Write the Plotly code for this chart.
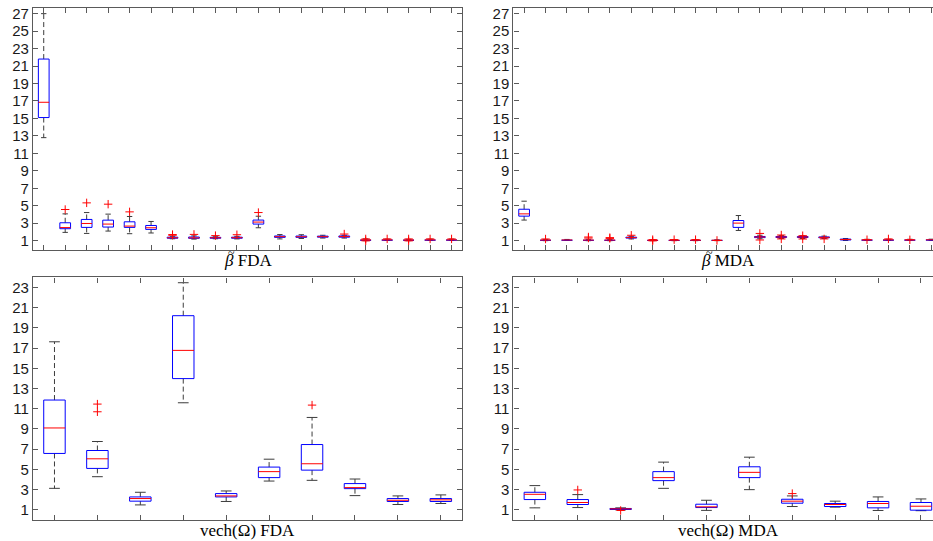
import plotly.graph_objects as go

# ---- beta-tilde, FDA (20 coefficients) ----
beta_fda_lw = [12.8, 1.95, 1.83, 2.10, 1.80, 1.88, 1.22, 1.18, 1.22, 1.20, 2.48, 1.20, 1.25, 1.30, 1.30, 1.00, 1.02, 1.00, 1.02, 1.02]
beta_fda_q1 = [15.1, 2.37, 2.52, 2.56, 2.52, 2.29, 1.28, 1.27, 1.28, 1.28, 2.90, 1.38, 1.38, 1.40, 1.40, 1.05, 1.06, 1.05, 1.06, 1.06]
beta_fda_med = [16.85, 2.50, 2.97, 2.90, 2.67, 2.48, 1.33, 1.32, 1.33, 1.34, 3.13, 1.46, 1.45, 1.46, 1.47, 1.09, 1.09, 1.08, 1.09, 1.09]
beta_fda_q3 = [21.8, 3.05, 3.43, 3.35, 3.16, 2.74, 1.40, 1.42, 1.38, 1.40, 3.36, 1.54, 1.53, 1.52, 1.54, 1.13, 1.12, 1.11, 1.12, 1.12]
beta_fda_uw = [27.0, 4.07, 4.22, 4.04, 3.77, 3.20, 1.50, 1.55, 1.45, 1.50, 3.80, 1.70, 1.68, 1.62, 1.62, 1.20, 1.18, 1.16, 1.18, 1.18]
beta_fda_out_x = [2, 3, 4, 5, 7, 7, 8, 9, 10, 11, 15, 16, 16, 17, 18, 18, 19, 20]
beta_fda_out_y = [4.57, 5.33, 5.18, 4.30, 1.62, 1.70, 1.72, 1.58, 1.68, 4.22, 1.76, 1.20, 0.98, 1.20, 1.20, 0.98, 1.20, 1.20]

# ---- beta-tilde, MDA (20 coefficients) ----
beta_mda_lw = [3.36, 1.00, 1.02, 1.00, 1.00, 1.20, 1.00, 1.00, 1.00, 1.00, 2.17, 1.22, 1.25, 1.25, 1.25, 1.02, 1.02, 1.02, 1.02, 1.02]
beta_mda_q1 = [3.81, 1.04, 1.05, 1.04, 1.04, 1.30, 1.03, 1.03, 1.03, 1.03, 2.52, 1.35, 1.36, 1.36, 1.33, 1.08, 1.06, 1.06, 1.06, 1.07]
beta_mda_med = [4.07, 1.07, 1.08, 1.07, 1.07, 1.35, 1.05, 1.05, 1.05, 1.05, 3.01, 1.42, 1.42, 1.42, 1.38, 1.13, 1.09, 1.09, 1.09, 1.10]
beta_mda_q3 = [4.60, 1.10, 1.11, 1.10, 1.10, 1.40, 1.07, 1.07, 1.07, 1.07, 3.31, 1.48, 1.48, 1.48, 1.43, 1.18, 1.12, 1.12, 1.12, 1.13]
beta_mda_uw = [5.52, 1.15, 1.14, 1.15, 1.15, 1.50, 1.10, 1.10, 1.10, 1.10, 3.88, 1.62, 1.58, 1.55, 1.52, 1.25, 1.16, 1.16, 1.16, 1.17]
beta_mda_out_x = [2, 4, 4, 5, 5, 6, 7, 7, 8, 9, 10, 12, 12, 13, 13, 14, 14, 15, 17, 18, 19]
beta_mda_out_y = [1.19, 1.30, 1.42, 1.26, 1.35, 1.62, 0.98, 1.12, 1.12, 1.12, 1.03, 1.83, 1.08, 1.65, 1.20, 1.57, 1.19, 1.20, 1.11, 1.20, 1.10]

# ---- vech(Omega), FDA (10 elements) ----
vech_fda_lw = [3.13, 4.28, 1.49, 11.59, 1.83, 3.85, 3.92, 2.41, 1.53, 1.63]
vech_fda_q1 = [6.58, 5.10, 1.86, 13.98, 2.28, 4.19, 4.93, 3.10, 1.83, 1.83]
vech_fda_med = [9.10, 6.05, 2.12, 16.77, 2.38, 4.78, 5.56, 3.20, 1.95, 1.99]
vech_fda_q3 = [11.86, 6.87, 2.28, 20.20, 2.61, 5.23, 7.46, 3.60, 2.12, 2.12]
vech_fda_uw = [17.62, 7.76, 2.74, 23.46, 2.87, 6.01, 10.14, 4.05, 2.38, 2.48]
vech_fda_out_x = [2, 2, 7]
vech_fda_out_y = [11.46, 10.70, 11.36]

# ---- vech(Omega), MDA (10 elements) ----
vech_mda_lw = [1.20, 1.23, 1.00, 3.13, 0.95, 3.00, 1.33, 1.27, 0.94, 0.92]
vech_mda_q1 = [2.02, 1.53, 1.04, 3.89, 1.23, 4.19, 1.66, 1.33, 1.20, 0.97]
vech_mda_med = [2.54, 1.73, 1.10, 4.19, 1.30, 4.71, 1.86, 1.53, 1.63, 1.36]
vech_mda_q3 = [2.74, 2.02, 1.14, 4.78, 1.56, 5.26, 2.05, 1.63, 1.83, 1.73]
vech_mda_uw = [3.40, 2.51, 1.20, 5.72, 1.95, 6.21, 2.38, 1.86, 2.28, 2.08]
vech_mda_out_x = [2, 3, 7]
vech_mda_out_y = [2.97, 0.94, 2.61]

top_yticks = list(range(1, 28, 2))
bottom_yticks = list(range(1, 24, 2))

BOX_W = 0.5
CAP_W = 0.25
BLUE = "#0000FF"
RED = "#FF0000"
WHISKER = "#3c3c3c"
AXIS = "#5a5a5a"

fig = go.Figure()


def add_boxplot(xa, ya, lw, q1, med, q3, uw, out_x, out_y):
    pos = list(range(1, len(med) + 1))
    wx, wy, cx, cy, bx, by, mx, my = [], [], [], [], [], [], [], []
    for p, a, b, m, c, d in zip(pos, lw, q1, med, q3, uw):
        # dashed whisker stems and solid end caps
        wx += [p, p, None, p, p, None]
        wy += [c, d, None, b, a, None]
        cx += [p - CAP_W / 2, p + CAP_W / 2, None, p - CAP_W / 2, p + CAP_W / 2, None]
        cy += [d, d, None, a, a, None]
        # interquartile box outline
        l, r = p - BOX_W / 2, p + BOX_W / 2
        bx += [l, r, r, l, l, None]
        by += [b, b, c, c, b, None]
        # median bar
        mx += [l, r, None]
        my += [m, m, None]
    common = dict(xaxis=xa, yaxis=ya, showlegend=False, hoverinfo="skip")
    fig.add_trace(go.Scatter(x=wx, y=wy, mode="lines",
                             line=dict(color=WHISKER, width=1, dash="5px,3px"), **common))
    fig.add_trace(go.Scatter(x=cx, y=cy, mode="lines",
                             line=dict(color=WHISKER, width=1), **common))
    fig.add_trace(go.Scatter(x=bx, y=by, mode="lines",
                             line=dict(color=BLUE, width=1), **common))
    fig.add_trace(go.Scatter(x=mx, y=my, mode="lines",
                             line=dict(color=RED, width=1), **common))
    fig.add_trace(go.Scatter(x=out_x, y=out_y, mode="markers",
                             marker=dict(symbol="cross-thin", size=6,
                                         line=dict(color=RED, width=1)), **common))


add_boxplot("x", "y", beta_fda_lw, beta_fda_q1, beta_fda_med, beta_fda_q3, beta_fda_uw,
            beta_fda_out_x, beta_fda_out_y)
add_boxplot("x2", "y2", beta_mda_lw, beta_mda_q1, beta_mda_med, beta_mda_q3, beta_mda_uw,
            beta_mda_out_x, beta_mda_out_y)
add_boxplot("x3", "y3", vech_fda_lw, vech_fda_q1, vech_fda_med, vech_fda_q3, vech_fda_uw,
            vech_fda_out_x, vech_fda_out_y)
add_boxplot("x4", "y4", vech_mda_lw, vech_mda_q1, vech_mda_med, vech_mda_q3, vech_mda_uw,
            vech_mda_out_x, vech_mda_out_y)

W, H = 933, 541
left_dom = [33 / W, 462.3 / W]
right_dom = [513.4 / W, 1.0]
top_dom = [(H - 248) / H, (H - 5) / H]
bot_dom = [(H - 520) / H, (H - 276) / H]

tick_font = dict(family="Liberation Sans, Arial, sans-serif", size=15, color="#1a1a1a")


def xaxis(dom, anchor, n, rng):
    return dict(domain=dom, anchor=anchor, range=rng, tickvals=list(range(1, n + 1)),
                showticklabels=False, ticks="inside", ticklen=5, tickcolor=AXIS,
                showline=True, linecolor=AXIS, linewidth=1.2, mirror="ticks",
                showgrid=False, zeroline=False, fixedrange=True)


def yaxis(dom, anchor, rng, tv, mirror):
    return dict(domain=dom, anchor=anchor, range=rng, tickvals=tv,
                ticks="inside", ticklen=5, tickcolor=AXIS, tickfont=tick_font,
                showline=True, linecolor=AXIS, linewidth=1.2,
                mirror="ticks" if mirror else False,
                showgrid=False, zeroline=False, fixedrange=True)


top_rng = [-0.025, 27.65]
bot_rng = [-0.013, 23.98]

fig.update_layout(
    width=W, height=H,
    margin=dict(l=0, r=0, t=0, b=0),
    paper_bgcolor="white", plot_bgcolor="white",
    xaxis=xaxis(left_dom, "y", 20, [0.5, 20.5]),
    yaxis=yaxis(top_dom, "x", top_rng, top_yticks, True),
    xaxis2=xaxis(right_dom, "y2", 20, [0.5, 20.08]),
    yaxis2=yaxis(top_dom, "x2", top_rng, top_yticks, False),
    xaxis3=xaxis(left_dom, "y3", 10, [0.5, 10.5]),
    yaxis3=yaxis(bot_dom, "x3", bot_rng, bottom_yticks, True),
    xaxis4=xaxis(right_dom, "y4", 10, [0.5, 10.28]),
    yaxis4=yaxis(bot_dom, "x4", bot_rng, bottom_yticks, False),
)

label_font = dict(family="Liberation Serif, Times New Roman, serif", size=17, color="black")
left_c = (left_dom[0] + left_dom[1]) / 2
right_c = (513.4 + 942.7) / 2 / W
# (text, x, y, pixel offset of the beta from the label centre or None)
labels = [
    ("<i>\u03b2</i> FDA", left_c, 1 - 259 / H, -16),
    ("<i>\u03b2</i> MDA", right_c, 1 - 259 / H, -19),
    ("vech(\u03a9) FDA", left_c, 1 - 530 / H, None),
    ("vech(\u03a9) MDA", right_c, 1 - 530 / H, None),
]
for text, x, y, beta_off in labels:
    fig.add_annotation(text=text, x=x, y=y, xref="paper", yref="paper",
                       xanchor="center", yanchor="middle", showarrow=False,
                       font=label_font)
    if beta_off is not None:
        # tilde accent over the beta
        fig.add_annotation(text="~", x=x, y=y, xref="paper", yref="paper",
                           xanchor="center", yanchor="middle", showarrow=False,
                           xshift=beta_off, yshift=8,
                           font=dict(family="Liberation Serif, serif", size=12, color="black"))

fig.write_html("out.html")
